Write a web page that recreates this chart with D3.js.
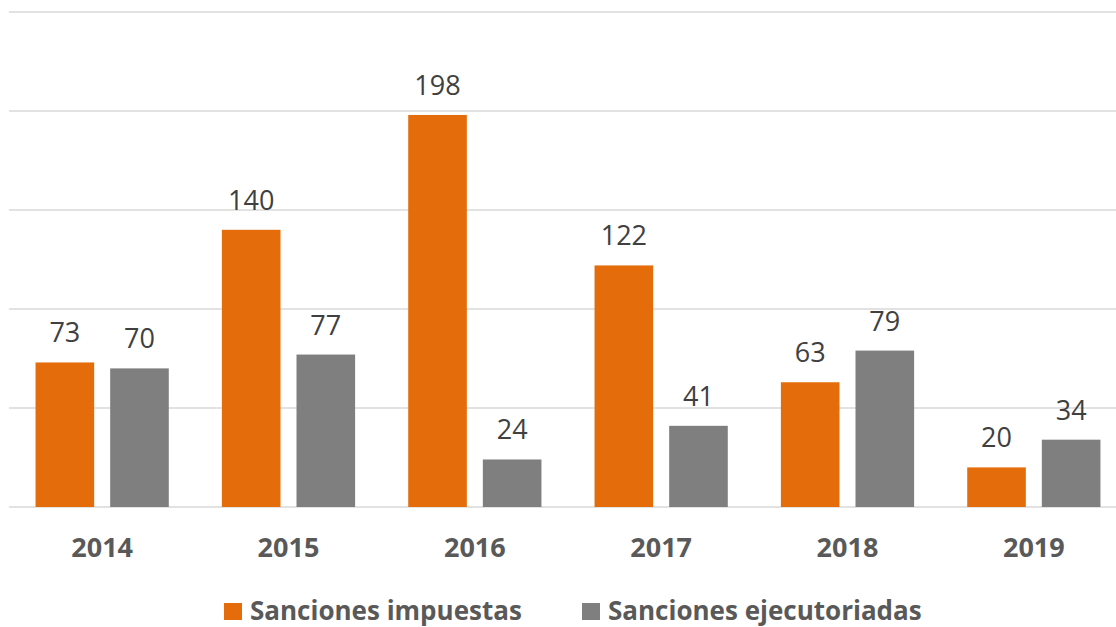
<!DOCTYPE html>
<html><head><meta charset="utf-8">
<script src="https://cdn.jsdelivr.net/npm/d3@7"></script>
<style>body{margin:0;background:#fff}svg{display:block}</style>
</head><body>
<svg id="c" width="1116" height="627"></svg>
<script>
const years = ["2014","2015","2016","2017","2018","2019"];
const seriesNames = ["Sanciones impuestas","Sanciones ejecutoriadas"];
const impuestas = [73,140,198,122,63,20];
const ejecutoriadas = [70,77,24,41,79,34];
const yTicks = [0,50,100,150,200,250];
const colors = ["#E46C0A","#7F7F7F"];

const svg = d3.select("#c");
const x0 = d3.scaleBand().domain(years).range([9,1127]).paddingInner(0.285).paddingOuter(0.1425);
const x1 = d3.scaleBand().domain(seriesNames).range([0,x0.bandwidth()]).paddingInner(0.2145);
const y = d3.scaleLinear().domain([0,250]).range([507,12]);

svg.append("g").selectAll("line").data(yTicks).join("line")
  .attr("x1",9).attr("x2",1130)
  .attr("y1",d=>y(d)).attr("y2",d=>y(d))
  .attr("stroke","#D9D9D9").attr("stroke-width",1.4);

const data = years.map((yr,i)=>({year:yr, vals:[impuestas[i],ejecutoriadas[i]]}));
const g = svg.append("g").selectAll("g").data(data).join("g")
  .attr("transform",d=>`translate(${x0(d.year)},0)`);
g.selectAll("rect").data(d=>d.vals.map((v,j)=>({v,s:seriesNames[j],j}))).join("rect")
  .attr("x",d=>x1(d.s)).attr("width",x1.bandwidth())
  .attr("y",d=>y(d.v)).attr("height",d=>y(0)-y(d.v))
  .attr("fill",d=>colors[d.j]);
g.selectAll("text").data(d=>d.vals.map((v,j)=>({v,s:seriesNames[j],j}))).join("text")
  .attr("x",d=>x1(d.s)+x1.bandwidth()/2).attr("y",d=>y(d.v)-20)
  .attr("text-anchor","middle").attr("font-family","Open Sans").attr("font-size",27)
  .attr("fill","#404040").text(d=>d.v);

svg.append("g").selectAll("text").data(years).join("text")
  .attr("x",d=>x0(d)+x0.bandwidth()/2).attr("y",557)
  .attr("text-anchor","middle").attr("font-family","Open Sans").attr("font-weight","bold")
  .attr("font-size",27).attr("fill","#595959").text(d=>d);

const legX = [224,582];
const lg = svg.append("g").selectAll("g").data(seriesNames).join("g")
  .attr("transform",(d,i)=>`translate(${legX[i]},0)`);
lg.append("rect").attr("x",0).attr("y",603).attr("width",18).attr("height",17).attr("fill",(d,i)=>colors[i]);
lg.append("text").attr("x",26).attr("y",620).attr("font-family","Open Sans").attr("font-weight","bold")
  .attr("font-size",26).attr("fill","#595959").text(d=>d);
</script>
</body></html>
